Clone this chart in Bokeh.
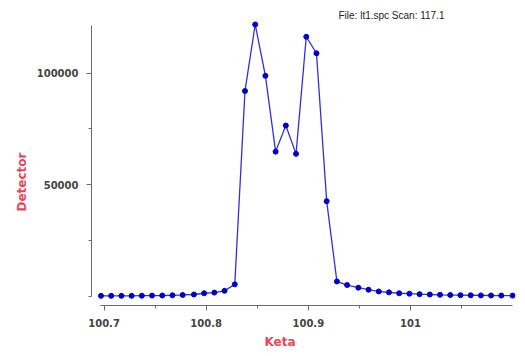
from bokeh.plotting import figure
from bokeh.models import (ColumnDataSource, FixedTicker, Range1d, Title,
                          CustomJSTickFormatter, BasicTickFormatter)
from bokeh.embed import file_html
from bokeh.resources import INLINE

# ---- data ----
keta = [100.697, 100.707, 100.717, 100.727, 100.737, 100.747, 100.757, 100.767,
        100.777, 100.788, 100.798, 100.808, 100.818, 100.828, 100.838, 100.848,
        100.858, 100.868, 100.878, 100.888, 100.898, 100.908, 100.918, 100.928,
        100.938, 100.949, 100.959, 100.969, 100.979, 100.989, 100.999, 101.009,
        101.019, 101.029, 101.039, 101.049, 101.059, 101.069, 101.079, 101.089,
        101.100]
detector = [150, 150, 150, 150, 200, 250, 300, 400, 550, 750, 1300, 1600, 2400,
            5300, 92000, 121800, 98800, 64800, 76500, 63800, 116300, 108900,
            42600, 6600, 5000, 3800, 2900, 2100, 1700, 1300, 1100, 900, 750,
            600, 500, 450, 400, 350, 300, 280, 250]
x_major = [100.7, 100.8, 100.9, 101.0]
x_minor = [100.75, 100.85, 100.95, 101.05]
y_major = [50000, 100000]
y_minor = [0, 25000, 75000]
title_text = "File: lt1.spc Scan: 117.1"

src = ColumnDataSource(dict(x=keta, y=detector))

p = figure(width=517, height=352, output_backend="svg", toolbar_location=None,
           x_range=Range1d(100.6877, 101.1029), y_range=Range1d(-4185, 123590),
           min_border_left=91, min_border_right=2, min_border_top=20,
           min_border_bottom=45)
p.outline_line_color = None
p.xgrid.visible = False
p.ygrid.visible = False
p.background_fill_color = "white"
p.border_fill_color = "white"

p.line("x", "y", source=src, line_color="#3030d8", line_width=1.3)
p.scatter("x", "y", source=src, size=5, fill_color="#0000c8",
          line_color="#0000c8")

axis_col = "#6a6a6a"
lab_col = "#444444"
red = "#e8465a"

xa = p.xaxis[0]
xa.ticker = FixedTicker(ticks=x_major, minor_ticks=x_minor)
xa.formatter = CustomJSTickFormatter(code="return (Math.round(tick*10)/10).toString();")
xa.bounds = (keta[0], keta[-1])
xa.axis_line_color = axis_col
xa.major_tick_line_color = axis_col
xa.minor_tick_line_color = axis_col
xa.major_tick_out = 5
xa.major_tick_in = 0
xa.minor_tick_out = 3
xa.minor_tick_in = 0
xa.major_label_standoff = 8
xa.major_label_text_font = "DejaVu Sans"
xa.major_label_text_font_style = "bold"
xa.major_label_text_font_size = "10px"
xa.major_label_text_color = lab_col

ya = p.yaxis[0]
ya.ticker = FixedTicker(ticks=y_major, minor_ticks=y_minor)
ya.formatter = BasicTickFormatter(use_scientific=False)
ya.bounds = (0, 121400)
ya.axis_line_color = axis_col
ya.major_tick_line_color = axis_col
ya.minor_tick_line_color = axis_col
ya.major_tick_out = 5
ya.major_tick_in = 0
ya.minor_tick_out = 3
ya.minor_tick_in = 0
ya.major_label_standoff = 8
ya.major_label_text_font = "DejaVu Sans"
ya.major_label_text_font_style = "bold"
ya.major_label_text_font_size = "10px"
ya.major_label_text_color = lab_col

# top-right file caption
p.title.text = title_text
p.title.align = "left"
p.title.offset = 247
p.title.standoff = 0
p.title.text_font = "Liberation Sans"
p.title.text_font_style = "normal"
p.title.text_font_size = "10px"
p.title.text_color = "#222222"

# axis titles
p.add_layout(Title(text="Keta", align="left", offset=173, standoff=7,
                   text_font="DejaVu Sans", text_font_style="bold",
                   text_font_size="12px", text_color=red), "below")
p.add_layout(Title(text="Detector", align="left", offset=94, standoff=9,
                   text_font="DejaVu Sans", text_font_style="bold",
                   text_font_size="12px", text_color=red), "left")

open("out.html", "w").write(file_html(p, INLINE))
